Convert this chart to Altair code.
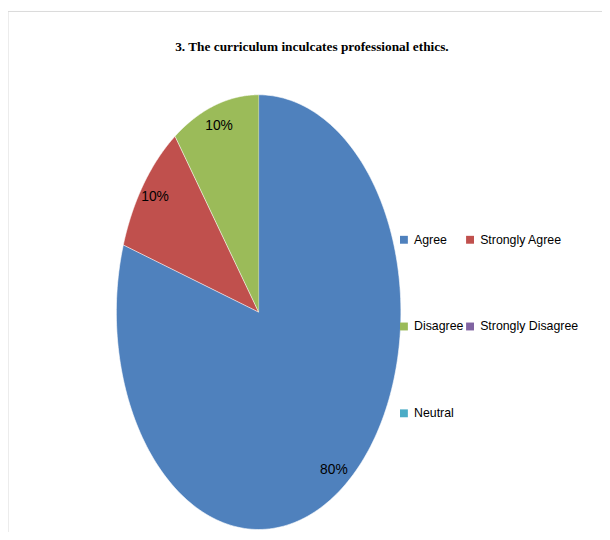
import altair as alt
import pandas as pd

# ---- data ----
categories = ["Agree", "Strongly Agree", "Disagree", "Strongly Disagree", "Neutral"]
percents = [80, 10, 10, 0, 0]
colors = ["#4F81BD", "#C0504D", "#9BBB59", "#8064A2", "#4BACC6"]
title_text = "3. The curriculum inculcates professional ethics."

df = pd.DataFrame({"category": categories, "value": percents,
                   "idx": list(range(len(categories)))})

# ---- layout ----
N = 200                     # points along each slice's arc
W, H = 602, 524             # view (whole framed chart area)
CX, CY, RX, RY = 254, 304.7, 144.2, 220.3   # ellipse centre / radii in view pixels
xdom = [-CX / RX, (W - CX) / RX]
ydom = [-(H - CY) / RY, CY / RY]
LABEL_R = 0.9
LABEL_FONT = "Liberation Sans, Arial, sans-serif"
FRAME = "#d9d9d9"

xs = alt.Scale(domain=xdom, nice=False, zero=False)
ys = alt.Scale(domain=ydom, nice=False, zero=False)

fill = alt.Fill(
    "category:N",
    scale=alt.Scale(domain=categories, range=colors),
    legend=alt.Legend(
        title=None, orient="none", legendX=395, legendY=225, columns=2,
        direction="horizontal",
        symbolType="square", symbolSize=64, symbolStrokeWidth=0,
        labelFont=LABEL_FONT, labelFontSize=12.5, labelColor="#000000",
        labelOffset=4, rowPadding=75, columnPadding=-3,
    ),
)

base = (
    alt.Chart(df)
    .transform_window(cum="sum(value)", sort=[alt.SortField("idx")], frame=[None, 0])
    .transform_joinaggregate(total="sum(value)")
    .transform_filter("datum.value > 0")
    .transform_calculate(
        a0="2*PI*(datum.cum - datum.value)/datum.total",
        a1="2*PI*datum.cum/datum.total",
    )
)

pie = (
    base.transform_calculate(k=f"sequence(0, {N + 2})")
    .transform_flatten(["k"])
    .transform_calculate(
        t=f"datum.a0 + (datum.a1 - datum.a0)*(datum.k - 1)/{N}",
    )
    .transform_calculate(
        px="datum.k == 0 ? 0 : sin(datum.t)",
        py="datum.k == 0 ? 0 : cos(datum.t)",
    )
    .mark_line(stroke="white", strokeWidth=0.6, interpolate="linear")
    .encode(
        x=alt.X("px:Q", scale=xs, axis=None),
        y=alt.Y("py:Q", scale=ys, axis=None),
        order=alt.Order("k:Q"),
        detail="category:N",
        fill=fill,
    )
)

labels = (
    base.transform_calculate(am="(datum.a0 + datum.a1)/2")
    .transform_calculate(
        lx=f"{LABEL_R}*sin(datum.am)",
        ly=f"{LABEL_R}*cos(datum.am)",
        lbl="datum.value + '%'",
    )
    .mark_text(font=LABEL_FONT, fontSize=14, color="#000000")
    .encode(
        x=alt.X("lx:Q", scale=xs, axis=None),
        y=alt.Y("ly:Q", scale=ys, axis=None),
        text="lbl:N",
    )
)

# chart frame (top and left edges; the others run past the window)
frame_src = alt.Data(values=[{"f": 1}])
frame_top = alt.Chart(frame_src).mark_rule(color=FRAME, strokeWidth=1).encode(
    x=alt.value(0), x2=alt.value(W), y=alt.value(0))
frame_left = alt.Chart(frame_src).mark_rule(color=FRAME, strokeWidth=1).encode(
    x=alt.value(0), y=alt.value(0), y2=alt.value(H + 20))

chart = (
    alt.layer(pie, labels, frame_top, frame_left)
    .properties(
        width=W, height=H, padding=0,
        autosize=alt.AutoSizeParams(type="none"),
        title=alt.TitleParams(
            title_text, font="Liberation Serif", fontWeight="bold", fontSize=13.5,
            color="#000000", anchor="middle", baseline="alphabetic",
            offset=-54.5, dx=7,
        ),
    )
    .configure_view(stroke=None)
)

chart.save("out.html", embed_options={"renderer": "svg", "actions": False})
